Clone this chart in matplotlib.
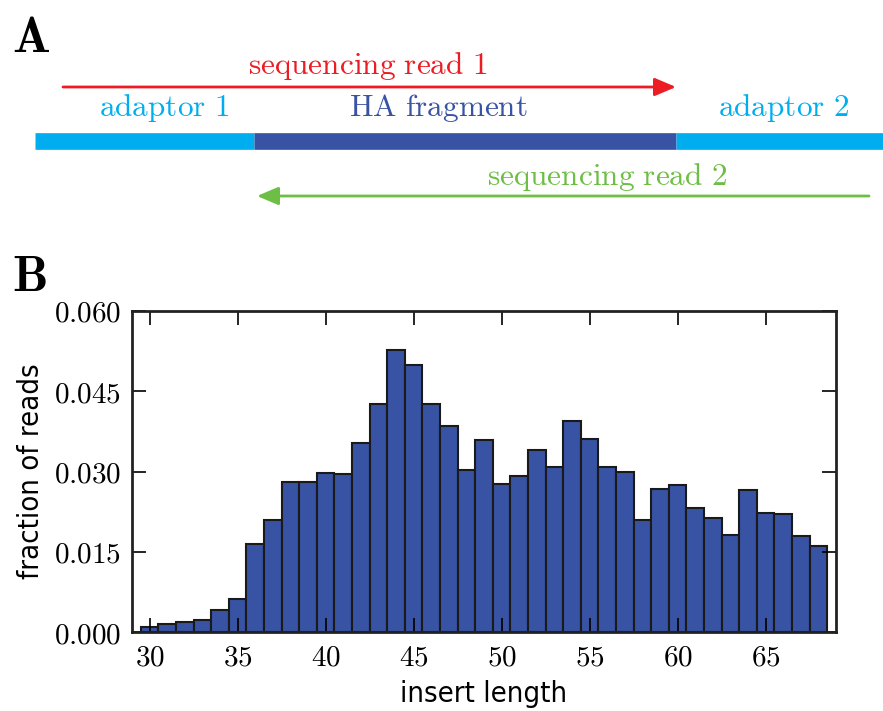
import matplotlib
matplotlib.use("Agg")
import matplotlib.pyplot as plt
from matplotlib.ticker import FormatStrFormatter, MultipleLocator

plt.rcParams["mathtext.fontset"] = "cm"

# insert length histogram (fraction of reads per length)
lengths = list(range(30, 69))
fractions = [0.0009, 0.0016, 0.0019, 0.0023, 0.0042, 0.0062, 0.0165, 0.0210,
             0.0281, 0.0281, 0.0297, 0.0296, 0.0354, 0.0427, 0.0527, 0.0500,
             0.0427, 0.0385, 0.0303, 0.0359, 0.0276, 0.0291, 0.0340, 0.0309,
             0.0395, 0.0361, 0.0309, 0.0300, 0.0209, 0.0267, 0.0274, 0.0231,
             0.0213, 0.0181, 0.0265, 0.0222, 0.0221, 0.0179, 0.0160]

light_blue = "#00AEEF"
dark_blue = "#3953A4"
red = "#ED1C24"
green = "#6DBE45"

fig = plt.figure(figsize=(8.83, 7.11), dpi=100)

# ---- panel A: schematic, drawn in pixel coords ----
axa = fig.add_axes([0, 0, 1, 1])
axa.set_xlim(0, 883)
axa.set_ylim(711, 0)
axa.axis("off")

axa.plot([35, 254], [141, 141], color=light_blue, lw=12, solid_capstyle="butt")
axa.plot([254, 676], [141, 141], color=dark_blue, lw=12, solid_capstyle="butt")
axa.plot([676, 883], [141, 141], color=light_blue, lw=12, solid_capstyle="butt")

axa.annotate("", xy=(676, 87), xytext=(63, 87),
             arrowprops=dict(arrowstyle="-|>,head_length=1.3,head_width=0.55",
                             color=red, lw=2, shrinkA=0, shrinkB=0))
axa.annotate("", xy=(257, 196), xytext=(869, 196),
             arrowprops=dict(arrowstyle="-|>,head_length=1.3,head_width=0.55",
                             color=green, lw=2, shrinkA=0, shrinkB=0))

txt = dict(ha="center", va="center", fontsize=22.5)
axa.text(368, 66, r"$\mathrm{sequencing\ read\ 1}$", color=red, **txt)
axa.text(164, 108, r"$\mathrm{adaptor\ 1}$", color=light_blue, **txt)
axa.text(438, 108, r"$\mathrm{HA\ fragment}$", color=dark_blue, **txt)
axa.text(784, 108, r"$\mathrm{adaptor\ 2}$", color=light_blue, **txt)
axa.text(607, 177, r"$\mathrm{sequencing\ read\ 2}$", color=green, **txt)
axa.text(12, 38, r"$\mathbf{A}$", fontsize=36, ha="left", va="center")
axa.text(12, 277, r"$\mathbf{B}$", fontsize=36, ha="left", va="center")

# ---- panel B: histogram ----
ax = fig.add_axes([0.1495, 0.111, 0.7973, 0.4516])
ax.bar(lengths, fractions, width=1.0, color=dark_blue, edgecolor="#1a1a1a", linewidth=1.5)
ax.set_xlim(29, 69)
ax.set_ylim(0, 0.060)
ax.xaxis.set_major_locator(MultipleLocator(5))
ax.yaxis.set_major_locator(MultipleLocator(0.015))
ax.xaxis.set_major_formatter(FormatStrFormatter(r"$%d$"))
ax.yaxis.set_major_formatter(FormatStrFormatter(r"$%.3f$"))
ax.tick_params(direction="in", length=10, width=1.2, top=True, right=True,
               labelsize=21, pad=8)
for s in ax.spines.values():
    s.set_linewidth(2)
    s.set_color("#222222")

lab = dict(fontsize=21, family="DejaVu Sans", stretch="condensed")
ax.set_xlabel("insert length", labelpad=6, **lab)
ax.set_ylabel("fraction of reads", labelpad=6, **lab)

fig.savefig("out.png", dpi=100)
